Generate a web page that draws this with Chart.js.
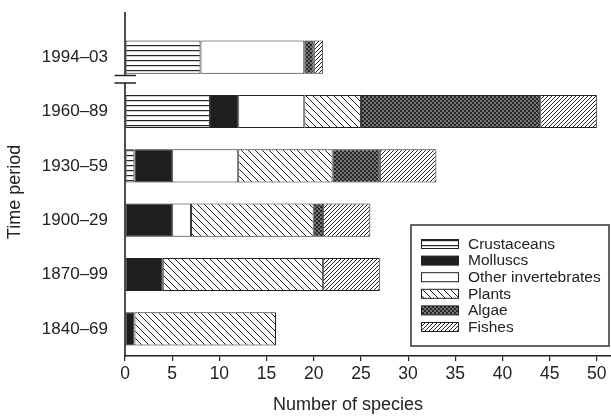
<!DOCTYPE html>
<html>
<head>
<meta charset="utf-8">
<script src="https://cdn.jsdelivr.net/npm/chart.js@4/dist/chart.umd.min.js"></script>
<style>
  html, body { margin: 0; padding: 0; background: #fff; }
  #wrap { width: 611px; height: 419px; position: relative; }
</style>
</head>
<body>
<div id="wrap"><canvas id="c" width="611" height="419"></canvas></div>
<script>
// ---- data ----
const categories = ['1994–03', '1960–89', '1930–59', '1900–29', '1870–99', '1840–69'];
const seriesNames = ['Crustaceans', 'Molluscs', 'Other invertebrates', 'Plants', 'Algae', 'Fishes'];
const crustaceans        = [8, 9, 1, 0, 0, 0];
const molluscs           = [0, 3, 4, 5, 4, 1];
const otherInvertebrates = [11, 7, 7, 2, 0, 0];
const plants             = [0, 6, 10, 13, 17, 15];
const algae              = [1, 19, 5, 1, 0, 0];
const fishes             = [1, 6, 6, 5, 6, 0];
const xTickValues = [0, 5, 10, 15, 20, 25, 30, 35, 40, 45, 50];
const xTitle = 'Number of species';
const yTitle = 'Time period';

// ---- patterns ----
const INK = '#222';
function makePattern(w, h, draw) {
  const c = document.createElement('canvas');
  c.width = w; c.height = h;
  const g = c.getContext('2d');
  g.fillStyle = '#fff'; g.fillRect(0, 0, w, h);
  draw(g, w, h);
  return document.getElementById('c').getContext('2d').createPattern(c, 'repeat');
}
const patHoriz = makePattern(8, 5, (g, w) => { g.fillStyle = INK; g.fillRect(0, 0, w, 1.2); });
const patBack = makePattern(7, 7, (g, w, h) => {
  g.strokeStyle = INK; g.lineWidth = 1;
  g.beginPath();
  g.moveTo(-1, -1); g.lineTo(w + 1, h + 1);
  g.moveTo(-1, h - 1); g.lineTo(1, h + 1);
  g.moveTo(w - 1, -1); g.lineTo(w + 1, 1);
  g.stroke();
});
const patFwd = makePattern(4, 4, (g, w, h) => {
  g.strokeStyle = INK; g.lineWidth = 1;
  g.beginPath();
  g.moveTo(-1, h + 1); g.lineTo(w + 1, -1);
  g.moveTo(-1, 1); g.lineTo(1, -1);
  g.moveTo(w - 1, h + 1); g.lineTo(w + 1, h - 1);
  g.stroke();
});
const patCheck = makePattern(4, 4, (g) => {
  g.fillStyle = '#262626'; g.fillRect(0, 0, 4, 4);
  g.fillStyle = '#767676'; g.fillRect(0, 0, 2, 2); g.fillRect(2, 2, 2, 2);
});

const fills = [patHoriz, '#1e1e1e', '#ffffff', patBack, patCheck, patFwd];
const values = [crustaceans, molluscs, otherInvertebrates, plants, algae, fishes];

const datasets = seriesNames.map((name, i) => ({
  label: name,
  data: values[i],
  backgroundColor: fills[i],
  borderColor: INK,
  borderWidth: (ctx) => (ctx.raw ? 1 : 0),
  borderSkipped: false,
  barPercentage: 0.61,
  categoryPercentage: 1.0
}));

Chart.defaults.font.family = '"Liberation Sans", Arial, Helvetica, sans-serif';
Chart.defaults.color = INK;

const CHART_LEFT = 125, CHART_TOP = 30, CHART_BOTTOM = 356;

const decor = {
  id: 'decor',
  afterDraw(chart) {
    const ctx = chart.ctx;
    const area = chart.chartArea;
    const x0 = area.left;
    ctx.save();
    // y axis line with break
    const brk1 = 75.5, brk2 = 83;
    ctx.strokeStyle = INK;
    ctx.lineWidth = 1.6;
    ctx.beginPath();
    ctx.moveTo(x0, 12); ctx.lineTo(x0, brk1);
    ctx.moveTo(x0, brk2); ctx.lineTo(x0, area.bottom + 0.8);
    ctx.moveTo(x0 - 10.5, brk1); ctx.lineTo(x0 + 11, brk1);
    ctx.moveTo(x0 - 10.5, brk2); ctx.lineTo(x0 + 11, brk2);
    ctx.stroke();

    // axis titles
    ctx.fillStyle = INK;
    ctx.font = '18px "Liberation Sans", Arial, sans-serif';
    ctx.textAlign = 'center';
    ctx.textBaseline = 'middle';
    ctx.fillText(xTitle, 348, 405);
    ctx.save();
    ctx.translate(15, 192);
    ctx.rotate(-Math.PI / 2);
    ctx.fillText(yTitle, 0, 0);
    ctx.restore();

    // legend
    const lx = 411, ly = 225, lw = 198, lh = 121;
    ctx.fillStyle = '#fff';
    ctx.fillRect(lx, ly, lw, lh);
    ctx.lineWidth = 1.5;
    ctx.strokeStyle = '#333';
    ctx.strokeRect(lx, ly, lw, lh);
    ctx.font = '15.5px "Liberation Sans", Arial, sans-serif';
    ctx.textAlign = 'left';
    chart.data.datasets.forEach((ds, i) => {
      const cy = 244 + i * 16.6;
      ctx.fillStyle = ds.backgroundColor;
      ctx.fillRect(421, cy - 4.5, 38, 9);
      ctx.lineWidth = 1;
      ctx.strokeStyle = INK;
      ctx.strokeRect(421.5, cy - 4.5, 37, 9);
      ctx.fillStyle = INK;
      ctx.fillText(ds.label, 468, cy + 0.5);
    });
    ctx.restore();
  }
};

new Chart(document.getElementById('c'), {
  type: 'bar',
  data: { labels: categories, datasets },
  options: {
    indexAxis: 'y',
    responsive: false,
    animation: false,
    layout: { padding: { top: CHART_TOP, left: 0, right: 0, bottom: 0 } },
    plugins: { legend: { display: false }, tooltip: { enabled: false } },
    scales: {
      x: {
        stacked: true,
        min: 0,
        max: 51.5,
        afterFit: (s) => { s.height = 419 - CHART_BOTTOM; },
        afterBuildTicks: (s) => { s.ticks = xTickValues.map(v => ({ value: v })); },
        ticks: { font: { size: 17.5 }, color: INK, padding: 3, maxRotation: 0 },
        grid: { drawOnChartArea: false, drawTicks: true, tickLength: 5, color: INK, lineWidth: 1.2 },
        border: { display: true, color: INK, width: 1.6 }
      },
      y: {
        stacked: true,
        afterFit: (s) => { s.width = CHART_LEFT; },
        ticks: { font: { size: 17 }, color: INK, padding: 9 },
        grid: { display: false },
        border: { display: false }
      }
    }
  },
  plugins: [decor]
});
</script>
</body>
</html>
